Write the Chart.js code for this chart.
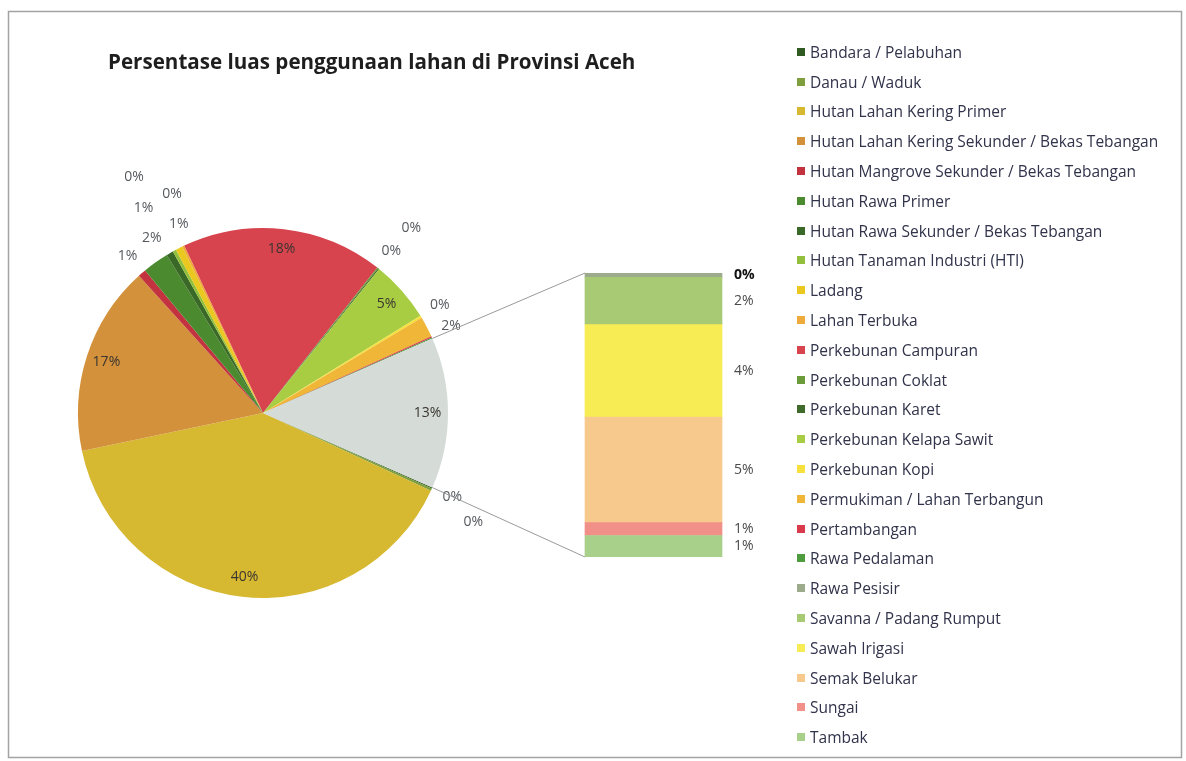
<!DOCTYPE html>
<html>
<head>
<meta charset="utf-8">
<script src="https://cdn.jsdelivr.net/npm/chart.js@4.4.1/dist/chart.umd.min.js"></script>
<style>
  html, body { margin: 0; padding: 0; background: #fff; }
  #wrap { position: relative; width: 1186px; height: 761px; overflow: hidden; font-family: "Open Sans", sans-serif; }
  #pie { position: absolute; left: 0; top: 0; }
  #bar { position: absolute; left: 533px; top: 263px; }
  #legend { position: absolute; left: 797px; top: 37px; margin: 0; padding: 0; list-style: none; }
  #legend li { height: 29.8px; display: flex; align-items: center; font-size: 15.5px; color: #30334a; white-space: nowrap; }
  #legend .box { display: inline-block; width: 8px; height: 8px; margin-right: 5px; }
</style>
</head>
<body>
<div id="wrap">
  <canvas id="pie" width="1186" height="761"></canvas>
  <canvas id="bar" width="241" height="304"></canvas>
  <ul id="legend"></ul>
</div>
<script>
var title = 'Persentase luas penggunaan lahan di Provinsi Aceh';

var categories = [
  'Bandara / Pelabuhan', 'Danau / Waduk', 'Hutan Lahan Kering Primer',
  'Hutan Lahan Kering Sekunder / Bekas Tebangan', 'Hutan Mangrove Sekunder / Bekas Tebangan',
  'Hutan Rawa Primer', 'Hutan Rawa Sekunder / Bekas Tebangan', 'Hutan Tanaman Industri (HTI)',
  'Ladang', 'Lahan Terbuka', 'Perkebunan Campuran', 'Perkebunan Coklat', 'Perkebunan Karet',
  'Perkebunan Kelapa Sawit', 'Perkebunan Kopi', 'Permukiman / Lahan Terbangun', 'Pertambangan',
  'Rawa Pedalaman', 'Rawa Pesisir', 'Savanna / Padang Rumput', 'Sawah Irigasi', 'Semak Belukar',
  'Sungai', 'Tambak'
];

// persen luas
var values = [
  0.1, 0.2, 39.8, 16.6, 0.7, 2.3, 0.6, 0.3, 0.6, 0.2, 17.6, 0.1, 0.1,
  5.4, 0.2, 1.8, 0.1, 0.1, 0.2, 2.2, 4.3, 4.9, 0.6, 1.0
];

var colors = [
  '#2f5a22', '#7f9e3c', '#d7b831', '#d3913b', '#c3333f', '#4c8a30', '#3a6826', '#93c03c',
  '#ebc81f', '#eeaa3a', '#d7444e', '#6c9c39', '#3e6b2a', '#a8cd42', '#f5e03c', '#f0b637',
  '#d93a4c', '#4f9c3f', '#9dab8d', '#a9ca74', '#f8ec55', '#f8c98c', '#f09089', '#a9d08a'
];

// the last six go to the bar on the right
var splitAt = 18;
var otherLabel = 'Lainnya';
var otherColor = '#d5dcd7';

var total = values.reduce(function (a, b) { return a + b; }, 0);
var barCats = categories.slice(splitAt);
var barVals = values.slice(splitAt);
var barColors = colors.slice(splitAt);
var otherTotal = barVals.reduce(function (a, b) { return a + b; }, 0);

var pieCats = categories.slice(0, splitAt).concat([otherLabel]);
var pieVals = values.slice(0, splitAt).concat([otherTotal]);
var pieColors = colors.slice(0, splitAt).concat([otherColor]);

function pct(v) { return Math.round(v / total * 100) + '%'; }

// legend
var ul = document.getElementById('legend');
categories.forEach(function (c, i) {
  var li = document.createElement('li');
  var b = document.createElement('span');
  b.className = 'box';
  b.style.background = colors[i];
  li.appendChild(b);
  li.appendChild(document.createTextNode(c));
  ul.appendChild(li);
});

var barLabels = {
  id: 'barLabels',
  afterDatasetsDraw: function (chart) {
    var ctx = chart.ctx;
    ctx.save();
    ctx.textAlign = 'left';
    ctx.textBaseline = 'middle';
    var n = chart.data.datasets.length;
    chart.data.datasets.forEach(function (ds, d) {
      var el = chart.getDatasetMeta(d).data[0];
      var top = d === n - 1;
      ctx.font = (top ? 'bold ' : '') + '14px "Open Sans"';
      ctx.fillStyle = top ? '#111' : '#4a4a4a';
      ctx.fillText(pct(ds.data[0]), el.x + el.width / 2 + 12, (el.y + el.base) / 2);
    });
    ctx.restore();
  }
};

var barChart = new Chart(document.getElementById('bar'), {
  type: 'bar',
  data: {
    labels: [''],
    datasets: barCats.map(function (c, i) {
      return { label: c, data: [barVals[i]], backgroundColor: barColors[i], borderWidth: 0, barThickness: 137 };
    }).reverse()
  },
  options: {
    responsive: false,
    animation: false,
    devicePixelRatio: 1,
    layout: { padding: { top: 10, bottom: 10, left: 0, right: 0 } },
    scales: {
      x: { display: false, stacked: true },
      y: { display: false, stacked: true, min: 0, max: otherTotal }
    },
    plugins: { legend: { display: false }, tooltip: { enabled: false } }
  },
  plugins: [barLabels]
});

// pixel segments joining the "other" slice to the bar
function connectors(chart) {
  var arcs = chart.getDatasetMeta(0).data;
  var o = arcs[arcs.length - 1];
  var n = barChart.data.datasets.length;
  var topEl = barChart.getDatasetMeta(n - 1).data[0];
  var botEl = barChart.getDatasetMeta(0).data[0];
  var ox = barChart.canvas.offsetLeft, oy = barChart.canvas.offsetTop;
  var bx = ox + topEl.x - topEl.width / 2;
  return [
    [o.x + Math.cos(o.startAngle) * o.outerRadius, o.y + Math.sin(o.startAngle) * o.outerRadius, bx, oy + topEl.y],
    [o.x + Math.cos(o.endAngle) * o.outerRadius, o.y + Math.sin(o.endAngle) * o.outerRadius, bx, oy + botEl.base]
  ];
}

function distToSeg(px, py, s) {
  var dx = s[2] - s[0], dy = s[3] - s[1];
  var t = Math.max(0, Math.min(1, ((px - s[0]) * dx + (py - s[1]) * dy) / (dx * dx + dy * dy)));
  return Math.hypot(px - s[0] - t * dx, py - s[1] - t * dy);
}

function lineY(s, x) { return s[1] + (s[3] - s[1]) * (x - s[0]) / (s[2] - s[0]); }

function blocked(x, y, segs) {
  if (segs.some(function (s) { return distToSeg(x, y, s) < 10; })) return true;
  var a = segs[0], b = segs[1];
  if (x > Math.min(a[0], b[0]) && x < a[2]) {
    return y > lineY(a, x) && y < lineY(b, x);
  }
  return false;
}

var frame = {
  id: 'frame',
  beforeDraw: function (chart) {
    var ctx = chart.ctx;
    ctx.save();
    ctx.fillStyle = '#fff';
    ctx.fillRect(0, 0, chart.width, chart.height);
    ctx.strokeStyle = '#a3a3a3';
    ctx.lineWidth = 1.5;
    ctx.strokeRect(8.5, 11.5, 1173, 746);
    ctx.font = 'bold 20.6px "Open Sans"';
    ctx.fillStyle = '#1e1e1e';
    ctx.textBaseline = 'middle';
    ctx.fillText(title, 108, 63);
    ctx.restore();
  }
};

var pieLabels = {
  id: 'pieLabels',
  afterDatasetsDraw: function (chart) {
    var ctx = chart.ctx;
    var arcs = chart.getDatasetMeta(0).data;
    var vals = chart.data.datasets[0].data;
    var segs = connectors(chart);
    var placed = [];
    var steps = [22, 52, 84];
    var nudges = [0, Math.PI / 60];
    ctx.save();
    ctx.textAlign = 'center';
    ctx.textBaseline = 'middle';
    ctx.font = '14px "Open Sans"';
    arcs.forEach(function (arc, i) {
      var mid = (arc.startAngle + arc.endAngle) / 2;
      var r = arc.outerRadius;
      var x, y, ok = true;
      if (vals[i] / total >= 0.04) {
        x = arc.x + Math.cos(mid) * r * 0.89;
        y = arc.y + Math.sin(mid) * r * 0.89;
        ctx.fillStyle = '#3a3530';
      } else {
        search:
        for (var k = 0; k < steps.length; k++) {
          for (var m = 0; m < nudges.length; m++) {
            x = arc.x + Math.cos(mid + nudges[m]) * (r + steps[k]);
            y = arc.y + Math.sin(mid + nudges[m]) * (r + steps[k]);
            ok = !placed.some(function (p) { return Math.abs(p.x - x) < 26 && Math.abs(p.y - y) < 16; });
            if (ok && k > 0) ok = !blocked(x, y, segs);
            if (ok) break search;
          }
        }
        ctx.fillStyle = '#55595e';
      }
      if (!ok) return;
      placed.push({ x: x, y: y });
      ctx.fillText(pct(vals[i]), x, y);
    });
    ctx.restore();
  },
  afterDraw: function (chart) {
    var ctx = chart.ctx;
    ctx.save();
    ctx.strokeStyle = '#9a9a9a';
    ctx.lineWidth = 1;
    ctx.beginPath();
    connectors(chart).forEach(function (s) {
      ctx.moveTo(s[0], s[1]);
      ctx.lineTo(s[2], s[3]);
    });
    ctx.stroke();
    ctx.restore();
  }
};

var pieChart = new Chart(document.getElementById('pie'), {
  type: 'pie',
  data: {
    labels: pieCats,
    datasets: [{ data: pieVals, backgroundColor: pieColors, borderWidth: 0 }]
  },
  options: {
    responsive: false,
    animation: false,
    devicePixelRatio: 1,
    rotation: 90 + otherTotal / total * 180,
    layout: { padding: { left: 78, top: 228, right: 738, bottom: 163 } },
    plugins: { legend: { display: false }, tooltip: { enabled: false } }
  },
  plugins: [frame, pieLabels]
});
</script>
</body>
</html>
